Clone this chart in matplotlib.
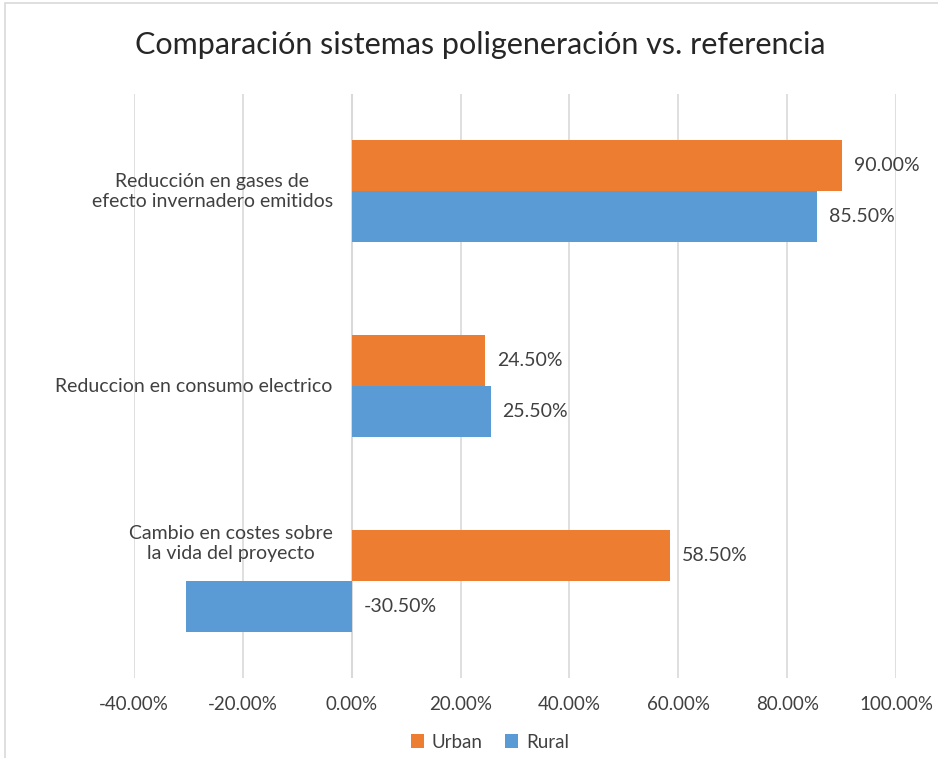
import numpy as np
import matplotlib
matplotlib.use("Agg")
import matplotlib.pyplot as plt
from matplotlib.patches import Rectangle
from matplotlib.ticker import FuncFormatter

plt.rcParams["font.family"] = ["Lato", "DejaVu Sans"]

categories = ["Cambio en costes sobre\nla vida del proyecto",
              "Reduccion en consumo electrico",
              "Reducción en gases de\nefecto invernadero emitidos"]
urban = [58.5, 24.5, 90.0]
rural = [-30.5, 25.5, 85.5]
ticks = [-40, -20, 0, 20, 40, 60, 80, 100]

c_urban = "#ED7D31"
c_rural = "#5B9BD5"

fig = plt.figure(figsize=(9.38, 7.58), dpi=100)
ax = fig.add_axes([134 / 938, 1 - 678 / 758, 762 / 938, 584 / 758])

y = np.arange(len(categories))
h = 0.262
ax.barh(y + h / 2, urban, height=h, color=c_urban, label="Urban")
ax.barh(y - h / 2, rural, height=h, color=c_rural, label="Rural")

for yi, u, r in zip(y, urban, rural):
    ax.text(max(u, 0) + 2.2, yi + h / 2, f"{u:.2f}%", va="center",
            ha="left", fontsize=14, color="#404040")
    ax.text(max(r, 0) + 2.2, yi - h / 2, f"{r:.2f}%", va="center",
            ha="left", fontsize=14, color="#404040")

# category labels sit left of the zero line
offsets = [0.19, 0, 0]
for yi, lab, off in zip(y, categories, offsets):
    ax.text(-3.5, yi + off, lab, ha="right", va="center",
            multialignment="center", fontsize=14, color="#404040",
            linespacing=1.2)

ax.set_xlim(-40, 100)
ax.set_ylim(-0.5, len(categories) - 0.5)
ax.set_xticks(ticks)
ax.xaxis.set_major_formatter(FuncFormatter(lambda v, p: f"{v:.2f}%"))
ax.set_yticks([])
ax.tick_params(axis="x", length=0, pad=13, labelsize=13.5,
               labelcolor="#404040")
ax.grid(axis="x", color="#D9D9D9", lw=1.2)
ax.set_axisbelow(True)
for s in ax.spines.values():
    s.set_visible(False)
ax.axvline(0, color="#D9D9D9", lw=1.5, zorder=0.5)

fig.text(480 / 938, 1 - 45 / 758, "Comparación sistemas poligeneración vs. referencia",
         ha="center", va="center", fontsize=22, color="#262626")

handles, labels = ax.get_legend_handles_labels()
fig.legend(handles, labels, loc="center", bbox_to_anchor=(490 / 938, 1 - 742 / 758),
           ncol=2, frameon=False, fontsize=13.5, handlelength=0.7,
           handleheight=0.7, columnspacing=1.2, handletextpad=0.4,
           labelcolor="#404040")

fig.patches.append(Rectangle((5 / 938, -0.01), 1.05, 1 - 3 / 758 + 0.01,
                             transform=fig.transFigure, fill=False,
                             edgecolor="#D9D9D9", lw=1.2))

fig.savefig("out.png", dpi=100, facecolor="white")
